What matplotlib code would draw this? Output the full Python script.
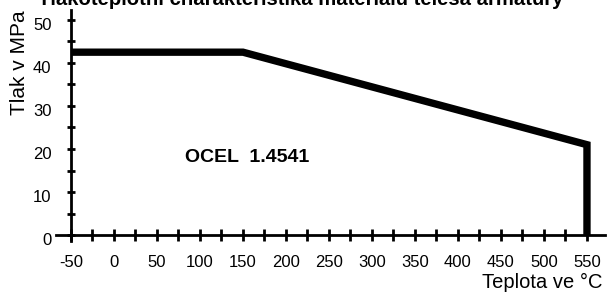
import matplotlib.pyplot as plt
import matplotlib.transforms as mtransforms
import numpy as np

plt.rcParams['font.family'] = ['Liberation Sans', 'DejaVu Sans']
plt.rcParams['axes.unicode_minus'] = False

# pressure-temperature rating of the valve body material
teplota = [-50, 150, 550, 550]
tlak = [42.5, 42.5, 21, 0]

x_major = np.arange(-50, 551, 50)
x_minor = np.arange(-50, 551, 25)
y_major = np.arange(0, 51, 10)
y_minor = np.arange(0, 51, 5)

fig = plt.figure(figsize=(6.13, 2.93), dpi=100)
ax = fig.add_axes([0.0914, 0.1758, 0.8956, 0.790])

ax.plot(teplota, tlak, color='black', lw=5.3, solid_joinstyle='miter',
        solid_capstyle='butt', zorder=3)

ax.set_xlim(-67.4, 571)
ax.set_ylim(-1.5, 52.3)
ax.spines['top'].set_visible(False)
ax.spines['right'].set_visible(False)
ax.spines['left'].set_position(('data', -50))
ax.spines['bottom'].set_position(('data', 0))
for s in ['left', 'bottom']:
    ax.spines[s].set_linewidth(2)

ax.set_xticks(x_major)
ax.set_xticks(x_minor, minor=True)
ax.set_yticks(y_major)
ax.set_yticks(y_minor, minor=True)
ax.tick_params(axis='x', which='both', direction='inout', length=8.5, width=2)
ax.tick_params(axis='y', which='both', direction='inout', length=6, width=2)
ax.tick_params(axis='x', labelsize=12, pad=10)
ax.tick_params(axis='y', labelsize=12, pad=11)

# labels in the scan sit slightly below their ticks
shift = mtransforms.ScaledTranslation(0, -3 / 72, fig.dpi_scale_trans)
for lab in ax.get_yticklabels():
    lab.set_transform(lab.get_transform() + shift)

ax.text(82.6, 18, 'OCEL  1.4541', fontsize=14, fontweight='bold',
        ha='left', va='center')

fig.text(20 / 613, 1 - 63 / 293, 'Tlak v MPa', rotation=90, fontsize=15,
         ha='center', va='center')
fig.text(602 / 613, 1 - 288 / 293, 'Teplota ve °C', fontsize=14.5,
         ha='right', va='baseline')
fig.text(0.491, 1 - 5 / 293, 'Tlakoteplotní charakteristika materiálu tělesa armatury',
         fontsize=14.6, fontweight='bold', ha='center', va='baseline')

fig.savefig('out.png', dpi=100)
